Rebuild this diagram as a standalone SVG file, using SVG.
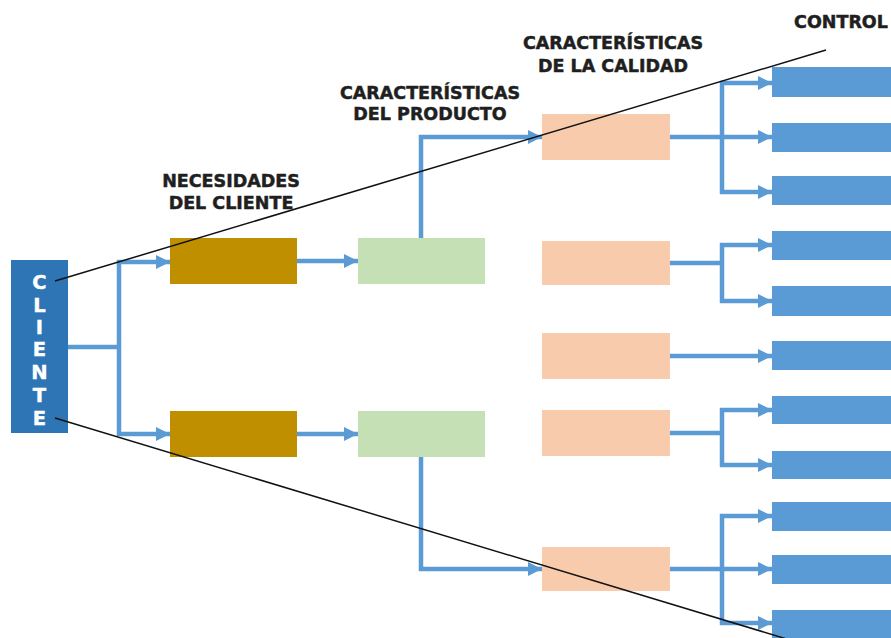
<svg xmlns="http://www.w3.org/2000/svg" width="891" height="638" viewBox="0 0 891 638">
<defs>
<style>
.lbl{font-family:"DejaVu Sans","Liberation Sans",sans-serif;font-weight:bold;font-size:17.5px;fill:#1f1f1f;stroke:#1f1f1f;stroke-width:0.5;text-anchor:middle}
.cl{font-family:"DejaVu Sans","Liberation Sans",sans-serif;font-weight:bold;font-size:19.5px;fill:#ffffff;stroke:#ffffff;stroke-width:0.4;text-anchor:middle}
.brown{fill:#BF8F00}
.green{fill:#C5E0B4}
.salmon{fill:#F8CBAD}
.blue{fill:#5B9BD5}
.con{fill:none;stroke:#5B9BD5;stroke-width:4.5}
.arr{fill:none;stroke:#5B9BD5;stroke-width:4.5;marker-end:url(#ah)}
.div{fill:none;stroke:#111;stroke-width:1.5}
</style>
<marker id="ah" markerUnits="userSpaceOnUse" markerWidth="16" markerHeight="16" refX="14" refY="7" orient="auto">
<path d="M0,0 L14,7 L0,14 Z" fill="#5B9BD5"/>
</marker>
</defs>
<rect width="891" height="638" fill="#ffffff"/>

<g id="labels">
<text class="lbl" x="231" y="187">NECESIDADES</text>
<text class="lbl" x="231" y="209">DEL CLIENTE</text>
<text class="lbl" x="430" y="99">CARACTERÍSTICAS</text>
<text class="lbl" x="430" y="120">DEL PRODUCTO</text>
<text class="lbl" x="613" y="49">CARACTERÍSTICAS</text>
<text class="lbl" x="613" y="72">DE LA CALIDAD</text>
<text class="lbl" x="841" y="28">CONTROL</text>
</g>

<g id="cliente">
<rect x="11" y="260" width="57" height="173" fill="#2E75B6"/>
<text class="cl" x="39.5" y="289">C</text>
<text class="cl" x="39.5" y="312">L</text>
<text class="cl" x="39.5" y="334">I</text>
<text class="cl" x="39.5" y="356">E</text>
<text class="cl" x="39.5" y="379">N</text>
<text class="cl" x="39.5" y="402">T</text>
<text class="cl" x="39.5" y="425">E</text>
</g>

<g id="necesidad1"><rect class="brown" x="170" y="238" width="127" height="46"/></g>
<g id="necesidad2"><rect class="brown" x="170" y="411" width="127" height="46"/></g>
<g id="producto1"><rect class="green" x="358" y="238" width="127" height="46"/></g>
<g id="producto2"><rect class="green" x="358" y="411" width="127" height="46"/></g>

<g id="calidad1"><rect class="salmon" x="542" y="114" width="128" height="46"/></g>
<g id="calidad2"><rect class="salmon" x="542" y="241" width="128" height="44"/></g>
<g id="calidad3"><rect class="salmon" x="542" y="333" width="128" height="46"/></g>
<g id="calidad4"><rect class="salmon" x="542" y="410" width="128" height="46"/></g>
<g id="calidad5"><rect class="salmon" x="542" y="547" width="128" height="44"/></g>

<g id="control1"><rect class="blue" x="772" y="67" width="119" height="30"/></g>
<g id="control2"><rect class="blue" x="772" y="123" width="119" height="29"/></g>
<g id="control3"><rect class="blue" x="772" y="176" width="119" height="29"/></g>
<g id="control4"><rect class="blue" x="772" y="231" width="119" height="29"/></g>
<g id="control5"><rect class="blue" x="772" y="286" width="119" height="30"/></g>
<g id="control6"><rect class="blue" x="772" y="341" width="119" height="29"/></g>
<g id="control7"><rect class="blue" x="772" y="396" width="119" height="28"/></g>
<g id="control8"><rect class="blue" x="772" y="451" width="119" height="28"/></g>
<g id="control9"><rect class="blue" x="772" y="502" width="119" height="29"/></g>
<g id="control10"><rect class="blue" x="772" y="555" width="119" height="29"/></g>
<g id="control11"><rect class="blue" x="772" y="610" width="119" height="28"/></g>

<g id="connectors">
<path class="con" d="M68,347 H119 M119,260 V436"/>
<path class="arr" d="M117,262 H170"/>
<path class="arr" d="M117,434 H170"/>
<path class="arr" d="M297,261 H358"/>
<path class="arr" d="M297,434 H358"/>
<path class="arr" d="M421,238 V137 H542"/>
<path class="arr" d="M421,457 V569 H542"/>

<path class="con" d="M670,137 H722 M722,81 V194"/>
<path class="arr" d="M720,83 H772"/>
<path class="arr" d="M722,137 H772"/>
<path class="arr" d="M720,192 H772"/>

<path class="con" d="M670,263 H722 M722,243 V303"/>
<path class="arr" d="M720,245 H772"/>
<path class="arr" d="M720,301 H772"/>

<path class="arr" d="M670,356 H772"/>

<path class="con" d="M670,433 H722 M722,408 V467"/>
<path class="arr" d="M720,410 H772"/>
<path class="arr" d="M720,465 H772"/>

<path class="con" d="M670,569 H722 M722,514 V625"/>
<path class="arr" d="M720,516 H772"/>
<path class="arr" d="M722,569 H772"/>
<path class="arr" d="M720,623 H772"/>
</g>

<g id="boundaries">
<path class="div" d="M55,281 L826,50"/>
<path class="div" d="M55,418 L790,640"/>
</g>
</svg>
